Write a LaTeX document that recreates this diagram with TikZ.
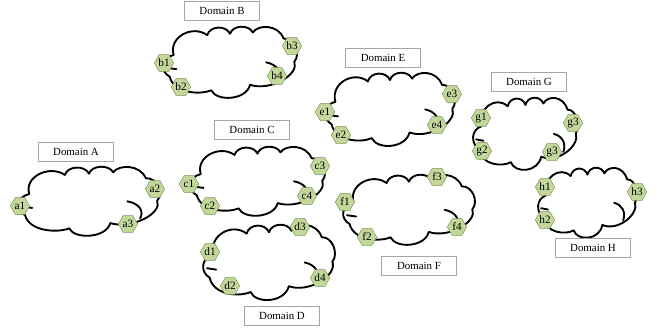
\documentclass[tikz,border=0pt]{standalone}
\usepackage{fontspec}
\setmainfont{Liberation Serif}
\usepackage{tikz}
\usetikzlibrary{shapes.geometric}
\definecolor{hexfill}{RGB}{196,215,155}
\definecolor{hexline}{RGB}{122,146,80}
\tikzset{
    cloudline/.style={black, line width=1.6pt, line join=round, line cap=round},
    domainbox/.style={draw=gray!70, fill=white, line width=0.5pt, minimum width=2.25cm, minimum height=0.57cm, inner sep=0pt, font=\fontsize{9.3}{11}\selectfont},
    hexnode/.style={regular polygon, regular polygon sides=6, draw=hexline, fill=hexfill, line width=0.4pt, minimum size=0.58cm, inner sep=0pt, font=\fontsize{9.6}{10}\selectfont}
}
% #1 = top left corner, #2 = width, #3 = height (in pixels)
\newcommand{\drawCloud}[3]{\draw [cloudline, shift={#1}, xscale=#2, yscale=#3]
    (0.08,0.41) .. controls (0.04,0.15) and (0.22,-0.04) .. (0.33,0.12)
    .. controls (0.35,-0.02) and (0.47,-0.03) .. (0.50,0.10)
    .. controls (0.52,-0.03) and (0.64,-0.04) .. (0.67,0.08)
    .. controls (0.71,-0.04) and (0.86,-0.04) .. (0.90,0.17)
    .. controls (0.98,0.16) and (1.03,0.40) .. (0.98,0.51)
    .. controls (1.02,0.70) and (0.80,0.95) .. (0.65,0.85)
    .. controls (0.62,1.08) and (0.40,1.10) .. (0.36,0.93)
    .. controls (0.28,1.00) and (0.08,0.98) .. (0.05,0.73)
    .. controls (-0.02,0.66) and (-0.02,0.46) .. (0.08,0.41);
    \draw [cloudline, shift={#1}, xscale=#2, yscale=#3] (0.03,0.60) .. controls (0.06,0.62) .. (0.10,0.62);
    \draw [cloudline, shift={#1}, xscale=#2, yscale=#3] (0.77,0.52) .. controls (0.85,0.55) and (0.89,0.66) .. (0.86,0.78)}

\begin{document}
\begin{tikzpicture}[x=0.03cm, y=-0.03cm]
    \useasboundingbox (0,0) rectangle (659,332);

    %for domain A
    \drawCloud{(18,167)}{142}{66};
    \node [domainbox] (boxA) at (76,152) {Domain A};
    \node [hexnode] (a1) at (20,206) {a1};
    \node [hexnode] (a2) at (155,189) {a2};
    \node [hexnode] (a3) at (128,224) {a3};

    %for domain B
    \drawCloud{(163,27)}{134}{68};
    \node [domainbox] (boxB) at (222,11) {Domain B};
    \node [hexnode] (b1) at (164,63) {b1};
    \node [hexnode] (b2) at (181,87) {b2};
    \node [hexnode] (b3) at (292,46) {b3};
    \node [hexnode] (b4) at (277,76) {b4};

    %for domain C
    \drawCloud{(190,147)}{135}{66};
    \node [domainbox] (boxC) at (252,130) {Domain C};
    \node [hexnode] (c1) at (189,184) {c1};
    \node [hexnode] (c2) at (210,206) {c2};
    \node [hexnode] (c3) at (320,166) {c3};
    \node [hexnode] (c4) at (307,196) {c4};

    %for domain D
    \drawCloud{(203,225)}{132}{72};
    \node [domainbox] (boxD) at (282,316) {Domain D};
    \node [hexnode] (d1) at (210,252) {d1};
    \node [hexnode] (d2) at (230,286) {d2};
    \node [hexnode] (d3) at (300,227) {d3};
    \node [hexnode] (d4) at (320,278) {d4};

    %for domain E
    \drawCloud{(325,73)}{130}{70};
    \node [domainbox] (boxE) at (383,58) {Domain E};
    \node [hexnode] (e1) at (325,112) {e1};
    \node [hexnode] (e2) at (341,135) {e2};
    \node [hexnode] (e3) at (452,94) {e3};
    \node [hexnode] (e4) at (437,125) {e4};

    %for domain F
    \drawCloud{(343,175)}{132}{67};
    \node [domainbox] (boxF) at (419,266) {Domain F};
    \node [hexnode] (f1) at (345,202) {f1};
    \node [hexnode] (f2) at (367,237) {f2};
    \node [hexnode] (f3) at (437,177) {f3};
    \node [hexnode] (f4) at (457,227) {f4};

    %for domain G
    \drawCloud{(473,98)}{105}{69};
    \node [domainbox] (boxG) at (529,82) {Domain G};
    \node [hexnode] (g1) at (481,118) {g1};
    \node [hexnode] (g2) at (482,151) {g2};
    \node [hexnode] (g3) at (573,123) {g3};
    \node [hexnode] (g4) at (552,152) {g3};

    %for domain H
    \drawCloud{(538,168)}{99}{67};
    \node [domainbox] (boxH) at (593,248) {Domain H};
    \node [hexnode] (h1) at (545,187) {h1};
    \node [hexnode] (h2) at (545,220) {h2};
    \node [hexnode] (h3) at (637,192) {h3};

\end{tikzpicture}
\end{document}
